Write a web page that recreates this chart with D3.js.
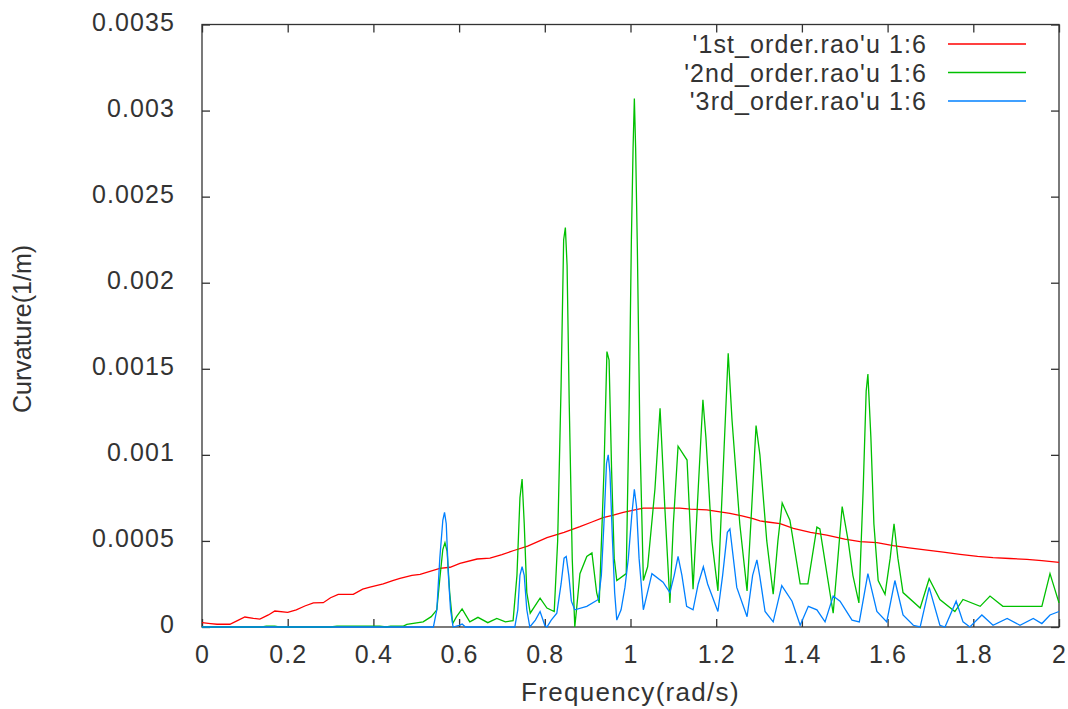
<!DOCTYPE html>
<html>
<head>
<meta charset="utf-8">
<script src="https://cdn.jsdelivr.net/npm/d3@7"></script>
<style>
  body { margin: 0; background: #fff; }
  text { font-family: "Liberation Sans", Arial, sans-serif; fill: #333; }
</style>
</head>
<body>
<svg id="chart" width="1068" height="709"></svg>
<script>
// Axis ticks
const xTicks = [0, 0.2, 0.4, 0.6, 0.8, 1, 1.2, 1.4, 1.6, 1.8, 2]
const xTickLabels = ["0", "0.2", "0.4", "0.6", "0.8", "1", "1.2", "1.4", "1.6", "1.8", "2"]
const yTicks = [0, 0.0005, 0.001, 0.0015, 0.002, 0.0025, 0.003, 0.0035]
const yTickLabels = ["0", "0.0005", "0.001", "0.0015", "0.002", "0.0025", "0.003", "0.0035"]

const seriesNames = ["'1st_order.rao'u 1:6", "'2nd_order.rao'u 1:6", "'3rd_order.rao'u 1:6"]
const seriesColors = ["#ff0000", "#00c000", "#0080ff"]

// 1st order
const firstFreq = [0, 0.02, 0.035, 0.065, 0.085, 0.1, 0.12, 0.135, 0.155, 0.17, 0.2, 0.22, 0.24, 0.26, 0.283, 0.3, 0.318, 0.353, 0.375, 0.392, 0.423, 0.445, 0.462, 0.49, 0.509, 0.555, 0.579, 0.602, 0.642, 0.672, 0.7, 0.726, 0.76, 0.805, 0.845, 0.882, 0.91, 0.936, 0.96, 0.983, 1.01, 1.03, 1.115, 1.14, 1.178, 1.205, 1.232, 1.26, 1.286, 1.302, 1.32, 1.349, 1.38, 1.42, 1.458, 1.5, 1.536, 1.575, 1.613, 1.65, 1.692, 1.73, 1.769, 1.81, 1.846, 1.885, 1.925, 1.96, 2.0]
const firstCurv = [0.000025, 0.00002, 0.000016, 0.000016, 0.00004, 0.000058, 0.00005, 0.000046, 0.00007, 0.000093, 0.000085, 0.0001, 0.000122, 0.00014, 0.000141, 0.00017, 0.00019, 0.00019, 0.00022, 0.000232, 0.00025, 0.00027, 0.000283, 0.0003, 0.000306, 0.00034, 0.000347, 0.00037, 0.000395, 0.0004, 0.00042, 0.000443, 0.00047, 0.000519, 0.00055, 0.000583, 0.00061, 0.000635, 0.00065, 0.000666, 0.00068, 0.00069, 0.00069, 0.000685, 0.00068, 0.00067, 0.00066, 0.000645, 0.00063, 0.000616, 0.00061, 0.0006, 0.000573, 0.00055, 0.000534, 0.00051, 0.000496, 0.00049, 0.000473, 0.00046, 0.000447, 0.000435, 0.000422, 0.00041, 0.000403, 0.000398, 0.000393, 0.000385, 0.000376]

// 2nd order
const secondFreq = [0, 0.14, 0.15, 0.17, 0.18, 0.3, 0.315, 0.415, 0.43, 0.44, 0.47, 0.478, 0.516, 0.535, 0.548, 0.555, 0.562, 0.567, 0.572, 0.578, 0.585, 0.594, 0.607, 0.625, 0.644, 0.667, 0.688, 0.708, 0.726, 0.735, 0.742, 0.747, 0.752, 0.758, 0.766, 0.789, 0.805, 0.822, 0.83, 0.838, 0.844, 0.848, 0.852, 0.857, 0.864, 0.87, 0.874, 0.882, 0.898, 0.91, 0.921, 0.927, 0.938, 0.945, 0.95, 0.956, 0.962, 0.968, 0.99, 0.997, 1.002, 1.006, 1.009, 1.012, 1.016, 1.022, 1.03, 1.04, 1.057, 1.069, 1.08, 1.092, 1.1, 1.111, 1.132, 1.146, 1.158, 1.169, 1.176, 1.19, 1.204, 1.216, 1.228, 1.237, 1.255, 1.272, 1.283, 1.293, 1.302, 1.318, 1.333, 1.344, 1.354, 1.372, 1.396, 1.414, 1.435, 1.442, 1.459, 1.473, 1.484, 1.494, 1.508, 1.519, 1.533, 1.543, 1.55, 1.554, 1.561, 1.568, 1.578, 1.594, 1.606, 1.615, 1.624, 1.636, 1.676, 1.697, 1.722, 1.757, 1.776, 1.816, 1.839, 1.869, 1.96, 1.979, 2.0]
const secondCurv = [0, 0, 0.000005, 0.000005, 0, 0, 0.000005, 0.000005, 0, 0.000005, 0.000005, 0.000015, 0.00003, 0.00006, 0.0001, 0.00028, 0.00045, 0.00049, 0.00044, 0.0002, 0.00002, 0.00006, 0.000105, 0.00003, 0.000056, 0.000025, 0.00005, 0.00003, 0.000037, 0.0003, 0.00075, 0.00086, 0.0006, 0.0002, 0.00008, 0.000167, 0.00011, 0.00009, 0.0005, 0.0014, 0.00225, 0.00232, 0.0021, 0.0013, 0.0004, 0, 0.0001, 0.00031, 0.00041, 0.00043, 0.0002, 0.00014, 0.0009, 0.0016, 0.00155, 0.0009, 0.0004, 0.00027, 0.00031, 0.0013, 0.00224, 0.00278, 0.00307, 0.00278, 0.0022, 0.0011, 0.00027, 0.00035, 0.0008, 0.00127, 0.0007, 0.00014, 0.0006, 0.00105, 0.00097, 0.00022, 0.0008, 0.00132, 0.0011, 0.0005, 0.00021, 0.0009, 0.00159, 0.0012, 0.0006, 0.00021, 0.0007, 0.00117, 0.001, 0.0005, 0.00019, 0.0005, 0.00072, 0.00062, 0.00025, 0.00025, 0.00058, 0.00057, 0.0003, 0.00008, 0.0004, 0.0007, 0.0005, 0.0003, 0.00014, 0.0008, 0.00137, 0.00147, 0.0011, 0.0006, 0.00027, 0.00019, 0.0004, 0.0006, 0.0004, 0.0002, 0.00011, 0.00028, 0.00016, 0.00009, 0.00016, 0.00012, 0.00018, 0.00012, 0.00012, 0.00031, 0.00014]

// 3rd order
const thirdFreq = [0, 0.54, 0.548, 0.555, 0.562, 0.566, 0.57, 0.575, 0.58, 0.586, 0.6, 0.607, 0.615, 0.73, 0.737, 0.742, 0.747, 0.752, 0.758, 0.765, 0.778, 0.789, 0.8, 0.805, 0.815, 0.828, 0.838, 0.845, 0.85, 0.856, 0.862, 0.87, 0.898, 0.925, 0.932, 0.938, 0.944, 0.948, 0.952, 0.958, 0.963, 0.968, 0.978, 0.987, 0.995, 1.003, 1.009, 1.014, 1.02, 1.03, 1.05, 1.076, 1.092, 1.102, 1.111, 1.12, 1.131, 1.146, 1.158, 1.17, 1.18, 1.204, 1.215, 1.226, 1.232, 1.248, 1.272, 1.285, 1.295, 1.302, 1.314, 1.333, 1.353, 1.377, 1.396, 1.415, 1.435, 1.454, 1.473, 1.489, 1.517, 1.534, 1.554, 1.575, 1.598, 1.617, 1.636, 1.66, 1.676, 1.697, 1.722, 1.734, 1.76, 1.776, 1.792, 1.82, 1.846, 1.879, 1.909, 1.94, 1.96, 1.979, 2.0]
const thirdCurv = [0, 0, 0.0001, 0.0004, 0.00062, 0.000666, 0.0006, 0.0003, 0.0001, 0, 0.00001, 0.000017, 0, 0, 0.0001, 0.0003, 0.00035, 0.0003, 0.0001, 0, 0.00004, 0.00009, 0.00001, 0, 0.00004, 0.00008, 0.00025, 0.0004, 0.00041, 0.0003, 0.00015, 0.0001, 0.00012, 0.00016, 0.0003, 0.0006, 0.00095, 0.001, 0.0009, 0.0005, 0.0002, 0.00004, 0.0001, 0.00023, 0.0004, 0.00065, 0.0008, 0.0007, 0.0004, 0.0001, 0.00031, 0.00026, 0.0002, 0.0003, 0.00041, 0.0003, 0.00012, 0.0001, 0.00025, 0.00035, 0.00025, 0.00009, 0.0003, 0.00055, 0.00057, 0.00023, 0.00006, 0.0003, 0.00039, 0.00029, 0.00009, 0.00003, 0.00024, 0.00015, 0.00001, 0.00012, 0.0001, 0.00003, 0.00018, 0.00015, 0.00004, 0.00003, 0.00031, 0.00009, 0.00003, 0.00027, 0.00007, 0.00001, 0, 0.00023, 0.00001, 0, 0.00015, 0.00003, 0, 0.00007, 0.00001, 0.00005, 0.00001, 0.00005, 0.00002, 0.00007, 0.00009]

var svg = d3.select("#chart")

// plot area
const plotLeft = 202, plotRight = 1059, plotTop = 24.5, plotBottom = 627

const x = d3.scaleLinear().domain([0, 2]).range([plotLeft, plotRight])
const y = d3.scaleLinear().domain([0, 0.0035]).range([plotBottom, plotTop])

// frame
svg.append("rect")
  .attr("x", plotLeft).attr("y", plotTop)
  .attr("width", plotRight - plotLeft).attr("height", plotBottom - plotTop)
  .attr("fill", "none")
  .attr("stroke", "#333")
  .attr("stroke-width", 1.3)

function styleAxis(g) {
  g.select(".domain").remove()
  g.selectAll(".tick line").attr("stroke", "#333").attr("stroke-width", 1.3)
  g.selectAll(".tick text")
    .style("font-size", "25px")
    .style("letter-spacing", "1.1px")
    .attr("fill", "#333")
}

// bottom + top
svg.append("g")
  .attr("transform", `translate(0,${plotBottom})`)
  .call(d3.axisBottom(x).tickValues(xTicks)
    .tickFormat((d, i) => xTickLabels[i])
    .tickSizeInner(-8).tickSizeOuter(0).tickPadding(18))
  .call(styleAxis)

svg.append("g")
  .attr("transform", `translate(0,${plotTop})`)
  .call(d3.axisTop(x).tickValues(xTicks).tickFormat("")
    .tickSizeInner(-8).tickSizeOuter(0))
  .call(styleAxis)

// left + right
svg.append("g")
  .attr("transform", `translate(${plotLeft},0)`)
  .call(d3.axisLeft(y).tickValues(yTicks)
    .tickFormat((d, i) => yTickLabels[i])
    .tickSizeInner(-8).tickSizeOuter(0).tickPadding(27))
  .call(styleAxis)
  .selectAll(".tick text").attr("dy", "0.22em")

svg.append("g")
  .attr("transform", `translate(${plotRight},0)`)
  .call(d3.axisRight(y).tickValues(yTicks).tickFormat("")
    .tickSizeInner(-8).tickSizeOuter(0))
  .call(styleAxis)

// axis titles
svg.append("text")
  .attr("x", (plotLeft + plotRight) / 2)
  .attr("y", 701)
  .attr("text-anchor", "middle")
  .style("font-size", "26px")
  .style("letter-spacing", "1.3px")
  .text("Frequency(rad/s)")

svg.append("text")
  .attr("transform", "translate(31,329) rotate(-90)")
  .attr("text-anchor", "middle")
  .style("font-size", "25px")
  .text("Curvature(1/m)")

// lines
const series = [
  { freq: firstFreq, curv: firstCurv },
  { freq: secondFreq, curv: secondCurv },
  { freq: thirdFreq, curv: thirdCurv }
]

const line = d3.line()
  .x(d => x(d[0]))
  .y(d => y(d[1]))

series.forEach(function (s, i) {
  svg.append("path")
    .datum(s.freq.map((f, j) => [f, s.curv[j]]))
    .attr("d", line)
    .attr("fill", "none")
    .attr("stroke", seriesColors[i])
    .attr("stroke-width", 1.3)
    .attr("stroke-linejoin", "miter")
})

// legend
const legend = svg.append("g")
seriesNames.forEach(function (name, i) {
  var ly = 44 + i * 28.5
  legend.append("text")
    .attr("x", 927)
    .attr("y", ly)
    .attr("dy", "0.36em")
    .attr("text-anchor", "end")
    .style("font-size", "25px")
    .style("letter-spacing", "1.1px")
    .text(name)
  legend.append("line")
    .attr("x1", 948).attr("x2", 1026)
    .attr("y1", ly).attr("y2", ly)
    .attr("stroke", seriesColors[i])
    .attr("stroke-width", 1.3)
})
</script>
</body>
</html>
